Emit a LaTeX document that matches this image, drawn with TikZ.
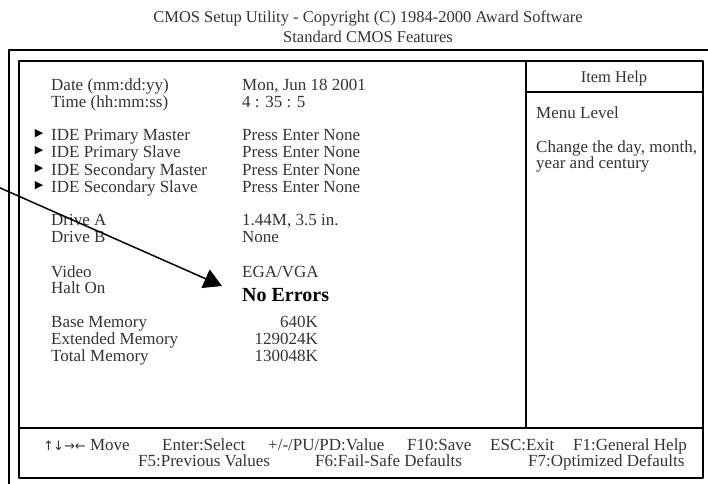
\documentclass[tikz,border=0pt]{standalone}
\usepackage{fontspec}
\setmainfont{Liberation Serif}
\newfontfamily\symfont{DejaVu Sans}
\usetikzlibrary{arrows.meta}

\begin{document}
\begin{tikzpicture}[>=latex,line join=bevel,
  txt/.style={anchor=base west,inner sep=0pt,text=black!80,font=\fontsize{17bp}{18bp}\selectfont},
  num/.style={txt,anchor=base east},
  head/.style={anchor=base,inner sep=0pt,text=black!80,font=\fontsize{16.5bp}{18bp}\selectfont},
  bullet/.style={inner sep=0pt,font=\symfont\fontsize{11bp}{11bp}\selectfont},
  frame/.style={line width=1.6bp}]
%%
\useasboundingbox (0bp,0bp) rectangle (708bp,-484bp);
%% frames
\draw [frame] (712bp,-50bp) -- (9bp,-50bp) -- (9bp,-490bp);
\draw [frame] (19bp,-61bp) rectangle (703bp,-478bp);
\draw [frame] (526bp,-61bp) -- (526bp,-428bp);
\draw [frame] (526bp,-92bp) -- (703bp,-92bp);
\draw [frame] (19bp,-428bp) -- (703bp,-428bp);
%% title
\node (title_0) at (368bp,-22bp) [head] {CMOS Setup Utility - Copyright (C) 1984-2000 Award Software};
\node (title_1) at (368bp,-42bp) [head] {Standard CMOS Features};
%% item help
\node (help_0) at (614bp,-82bp) [head] {Item Help};
\node (help_1) at (536bp,-118bp) [txt] {Menu Level};
\node (help_2) at (536bp,-152bp) [txt] {Change the day, month,};
\node (help_3) at (536bp,-168bp) [txt] {year and century};
%% items
\node (item_0) at (51bp,-90bp) [txt] {Date (mm:dd:yy)};
\node (item_1) at (51bp,-107bp) [txt] {Time (hh:mm:ss)};
\node (item_2) at (51bp,-140bp) [txt] {IDE Primary Master};
\node (item_3) at (51bp,-157bp) [txt] {IDE Primary Slave};
\node (item_4) at (51bp,-175bp) [txt] {IDE Secondary Master};
\node (item_5) at (51bp,-192bp) [txt] {IDE Secondary Slave};
\node (item_6) at (51bp,-225bp) [txt] {Drive A};
\node (item_7) at (51bp,-242bp) [txt] {Drive B};
\node (item_8) at (51bp,-277bp) [txt] {Video};
\node (item_9) at (51bp,-293bp) [txt] {Halt On};
\node (item_10) at (51bp,-327bp) [txt] {Base Memory};
\node (item_11) at (51bp,-344bp) [txt] {Extended Memory};
\node (item_12) at (51bp,-361bp) [txt] {Total Memory};
\foreach \i in {2,...,5}
  \node (bullet_\i) at ([xshift=-12bp,yshift=6bp]item_\i.base west) [bullet] {▶};
%% values
\node (value_0) at (242bp,-90bp) [txt] {Mon, Jun 18 2001};
\node (value_1) at (242bp,-107bp) [txt] {4 : 35 : 5};
\node (value_2) at (242bp,-140bp) [txt] {Press Enter None};
\node (value_3) at (242bp,-157bp) [txt] {Press Enter None};
\node (value_4) at (242bp,-175bp) [txt] {Press Enter None};
\node (value_5) at (242bp,-192bp) [txt] {Press Enter None};
\node (value_6) at (242bp,-225bp) [txt] {1.44M, 3.5 in.};
\node (value_7) at (242bp,-242bp) [txt] {None};
\node (value_8) at (242bp,-277bp) [txt] {EGA/VGA};
\node (value_9) at (242bp,-301bp) [txt,text=black,font=\bfseries\fontsize{20bp}{22bp}\selectfont] {No Errors};
\node (value_10) at (318bp,-327bp) [num] {640K};
\node (value_11) at (318bp,-344bp) [num] {129024K};
\node (value_12) at (318bp,-361bp) [num] {130048K};
%% key bar
\node (key_0) at (43bp,-450bp) [txt] {{\symfont\fontsize{13bp}{13bp}\selectfont ↑\kern-1bp↓→←} Move};
\node (key_1) at (162bp,-450bp) [txt] {Enter:Select};
\node (key_2) at (268bp,-450bp) [txt] {+/-/PU/PD:Value};
\node (key_3) at (407bp,-450bp) [txt] {F10:Save};
\node (key_4) at (490bp,-450bp) [txt] {ESC:Exit};
\node (key_5) at (573bp,-450bp) [txt] {F1:General Help};
\node (key_6) at (138bp,-466bp) [txt] {F5:Previous Values};
\node (key_7) at (315bp,-466bp) [txt] {F6:Fail-Safe Defaults};
\node (key_8) at (528bp,-466bp) [txt] {F7:Optimized Defaults};
%% pointer
\coordinate (arr_start) at (-2bp,-187bp);
\coordinate (arr_tip) at (222bp,-286bp);
\draw [line width=1.5bp,-{Triangle[length=18bp,width=20bp]}] (arr_start) -- (arr_tip);
%
\end{tikzpicture}
\end{document}
